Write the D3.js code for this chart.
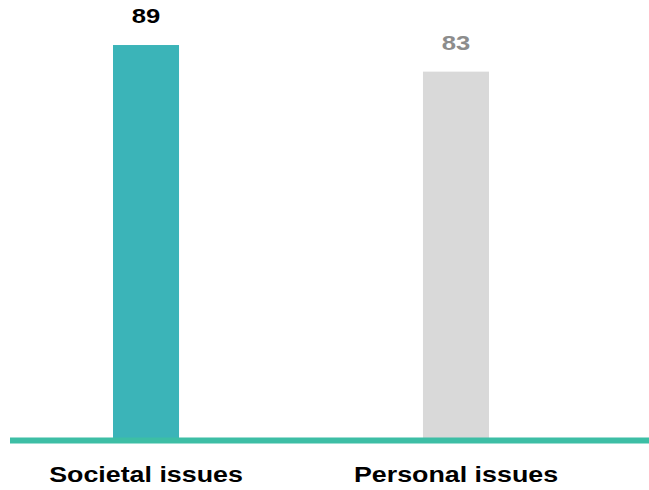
<!DOCTYPE html>
<html>
<head>
<meta charset="utf-8">
<script src="https://cdn.jsdelivr.net/npm/d3@7"></script>
<style>
  html, body { margin: 0; padding: 0; background: #ffffff; }
  svg { display: block; }
</style>
</head>
<body>
<svg id="chart" width="649" height="490"></svg>
<script>
const categories = ["Societal issues", "Personal issues"];
const values = [89, 83];
const barColors = ["#3bb4b8", "#d9d9d9"];
const valueLabelColors = ["#000000", "#8c8c8c"];

const svg = d3.select("#chart");
const W = 649;

const x = d3.scaleBand()
  .domain(categories)
  .range([113, 489])
  .paddingInner(0.787)
  .paddingOuter(0);

const y = d3.scaleLinear()
  .domain([0, 100])
  .range([440, -3.8]);

const stretch = 1.22;

// bars
svg.selectAll("rect.bar")
  .data(categories)
  .join("rect")
  .attr("class", "bar")
  .attr("x", d => x(d))
  .attr("width", x.bandwidth())
  .attr("y", (d, i) => y(values[i]))
  .attr("height", (d, i) => y(0) - y(values[i]))
  .attr("fill", (d, i) => barColors[i]);

// baseline
svg.append("line")
  .attr("x1", 10)
  .attr("x2", W)
  .attr("y1", y(0) + 0.5)
  .attr("y2", y(0) + 0.5)
  .attr("stroke", "#3dbea5")
  .attr("stroke-width", 6);

// value labels
svg.selectAll("text.val")
  .data(categories)
  .join("text")
  .attr("class", "val")
  .attr("transform", (d, i) => `translate(${x(d) + x.bandwidth() / 2},${y(values[i]) - 22}) scale(${stretch},1)`)
  .attr("text-anchor", "middle")
  .attr("font-family", "Liberation Sans, Arial, sans-serif")
  .attr("font-weight", "bold")
  .attr("font-size", 21)
  .attr("fill", (d, i) => valueLabelColors[i])
  .text((d, i) => values[i]);

// category labels
svg.selectAll("text.cat")
  .data(categories)
  .join("text")
  .attr("class", "cat")
  .attr("transform", d => `translate(${x(d) + x.bandwidth() / 2},482) scale(${stretch},1)`)
  .attr("text-anchor", "middle")
  .attr("font-family", "Liberation Sans, Arial, sans-serif")
  .attr("font-weight", "bold")
  .attr("font-size", 22)
  .attr("fill", "#000000")
  .text(d => d);
</script>
</body>
</html>
